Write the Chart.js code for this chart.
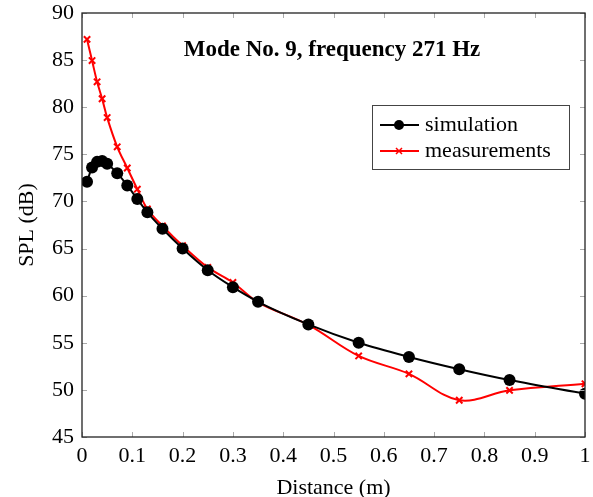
<!DOCTYPE html>
<html><head><meta charset="utf-8">
<script src="https://cdn.jsdelivr.net/npm/chart.js@4/dist/chart.umd.min.js"></script>
<style>html,body{margin:0;padding:0;background:#fff}#wrap{width:593px;height:497px}</style>
</head><body><div id="wrap"><canvas id="c" width="593" height="497"></canvas></div>
<script>
const distance = [0.01,0.02,0.03,0.04,0.05,0.07,0.09,0.11,0.13,0.16,0.2,0.25,0.3,0.35,0.45,0.55,0.65,0.75,0.85,1.0];
const simulation = [72.1,73.6,74.2,74.3,74.0,73.0,71.7,70.25,68.85,67.1,65.0,62.7,60.9,59.35,56.95,55.0,53.5,52.2,51.05,49.6];
const measurements = [87.2,84.95,82.7,80.9,78.9,75.8,73.55,71.3,69.2,67.4,65.3,63.0,61.4,59.3,56.9,53.6,51.7,48.9,49.95,50.65];
const xTicks = [0,0.1,0.2,0.3,0.4,0.5,0.6,0.7,0.8,0.9,1];
const yTicks = [45,50,55,60,65,70,75,80,85,90];
const titleText = 'Mode No. 9, frequency 271 Hz';
const SERIF = '"Liberation Serif","DejaVu Serif",serif';

const frame = {
  id: 'frame',
  afterDatasetsDraw(chart) {
    const {ctx, chartArea: a, scales: {x, y}} = chart;
    ctx.save();
    ctx.strokeStyle = '#aaaaaa'; ctx.lineWidth = 1;
    ctx.beginPath();
    xTicks.forEach(v => { const px = Math.round(x.getPixelForValue(v)) + 0.5;
      ctx.moveTo(px, a.bottom); ctx.lineTo(px, a.bottom - 5);
      ctx.moveTo(px, a.top); ctx.lineTo(px, a.top + 5); });
    yTicks.forEach(v => { const py = Math.round(y.getPixelForValue(v)) + 0.5;
      ctx.moveTo(a.left, py); ctx.lineTo(a.left + 5, py);
      ctx.moveTo(a.right, py); ctx.lineTo(a.right - 5, py); });
    ctx.stroke();
    ctx.strokeStyle = '#222'; ctx.lineWidth = 1.3;
    ctx.strokeRect(a.left, a.top, a.right - a.left, a.bottom - a.top);
    // title
    ctx.fillStyle = '#000';
    ctx.font = 'bold 23px ' + SERIF;
    ctx.textAlign = 'center'; ctx.textBaseline = 'middle';
    ctx.fillText(titleText, 332, 50);
    // legend
    const lx = 372, ly = 105, lw = 197, lh = 64;
    ctx.fillStyle = '#fff'; ctx.fillRect(lx, ly, lw, lh);
    ctx.strokeStyle = '#444'; ctx.lineWidth = 1; ctx.strokeRect(lx + 0.5, ly + 0.5, lw, lh);
    chart.data.datasets.forEach((ds, i) => {
      const yy = ly + 20 + i * 26;
      ctx.strokeStyle = ds.borderColor; ctx.lineWidth = 2;
      ctx.beginPath(); ctx.moveTo(380, yy); ctx.lineTo(419, yy); ctx.stroke();
      if (i === 0) { ctx.fillStyle = '#000'; ctx.beginPath(); ctx.arc(399, yy, 5, 0, Math.PI*2); ctx.fill(); }
      else { ctx.strokeStyle = ds.borderColor; ctx.lineWidth = 1.5; ctx.beginPath();
        ctx.moveTo(396, yy-3); ctx.lineTo(402, yy+3); ctx.moveTo(402, yy-3); ctx.lineTo(396, yy+3); ctx.stroke(); }
      ctx.fillStyle = '#000'; ctx.font = '22px ' + SERIF; ctx.textAlign = 'left';
      ctx.fillText(ds.label, 425, yy);
    });
    ctx.restore();
  }
};

new Chart(document.getElementById('c'), {
  type: 'line',
  data: {
    datasets: [
      { label: 'simulation', data: distance.map((d, i) => ({x: d, y: simulation[i]})),
        borderColor: '#000', backgroundColor: '#000', borderWidth: 2, pointRadius: 6,
        pointStyle: 'circle', pointBorderWidth: 0, tension: 0.3, cubicInterpolationMode: 'monotone' },
      { label: 'measurements', data: distance.map((d, i) => ({x: d, y: measurements[i]})),
        borderColor: '#ff0000', backgroundColor: '#ff0000', borderWidth: 2, pointRadius: 4.5,
        pointStyle: 'crossRot', pointBorderWidth: 2, tension: 0.35 }
    ]
  },
  options: {
    responsive: false, animation: false,
    layout: { padding: { left: 0, right: 8, top: 13, bottom: 0 } },
    plugins: { legend: { display: false }, tooltip: { enabled: false }, title: { display: false } },
    scales: {
      x: { type: 'linear', min: 0, max: 1,
        afterBuildTicks: s => { s.ticks = xTicks.map(v => ({value: v})); },
        afterFit: s => { s.height = 60; s.paddingLeft = 0; s.paddingRight = 0; },
        grid: { display: false }, border: { display: false },
        ticks: { color: '#000', font: { family: SERIF, size: 22 }, padding: -2, maxRotation: 0,
          callback: v => String(v) },
        title: { display: true, text: 'Distance (m)', color: '#000', font: { family: SERIF, size: 22 }, padding: { top: 0, bottom: -4 } } },
      y: { type: 'linear', min: 45, max: 90,
        afterBuildTicks: s => { s.ticks = yTicks.map(v => ({value: v})); },
        afterFit: s => { s.width = 82; s.paddingTop = 0; s.paddingBottom = 0; },
        grid: { display: false }, border: { display: false },
        ticks: { color: '#000', font: { family: SERIF, size: 22 }, padding: 0 },
        title: { display: true, text: 'SPL (dB)', color: '#000', font: { family: SERIF, size: 22 }, padding: { top: 14, bottom: 0 } } }
    }
  },
  plugins: [frame]
});
</script></body></html>
